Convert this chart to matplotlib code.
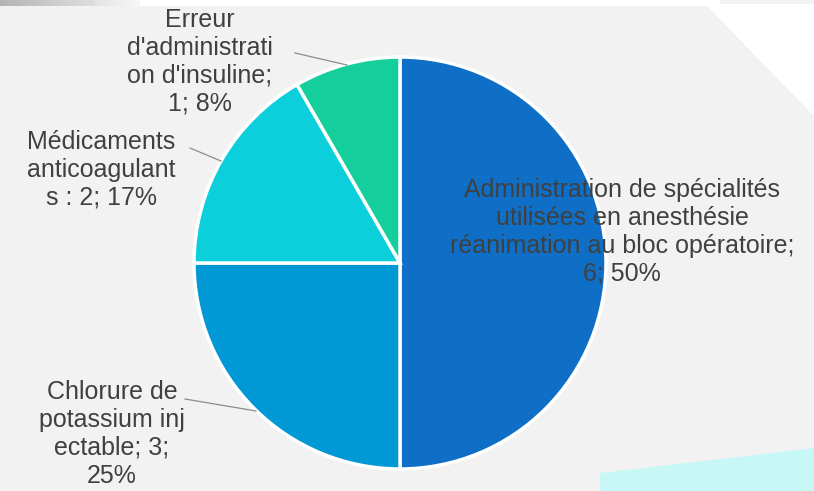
import numpy as np
import matplotlib
matplotlib.use('Agg')
import matplotlib.pyplot as plt
from matplotlib.patches import Polygon, Rectangle

labels = [
    "Administration de spécialités\nutilisées en anesthésie\nréanimation au bloc opératoire;\n6; 50%",
    "Chlorure de\npotassium inj\nectable; 3;\n25%",
    "Médicaments\nanticoagulant\ns : 2; 17%",
    "Erreur\nd'administrati\non d'insuline;\n1; 8%",
]
values = [6, 3, 2, 1]
colors = ['#0F6FC6', '#0099D6', '#0BCFDB', '#14CF9B']

# positions des étiquettes (pixels, origine en haut à gauche)
label_pos = [(622, 232), (112, 434), (101, 170), (200, 62)]
leaders = [None, ((185, 399), (256, 411)), ((190, 148), (221, 161)), ((295, 53), (347, 65))]

W, H = 814, 491
fig = plt.figure(figsize=(W / 100, H / 100), dpi=100)
fig.patch.set_facecolor('#f2f2f2')
ax = fig.add_axes([0, 0, 1, 1])

def fy(y):
    return H - y

wedges, _ = ax.pie(values, colors=colors, startangle=90, counterclock=False,
                   center=(400, fy(263)), radius=206,
                   wedgeprops=dict(edgecolor='white', linewidth=2.5))
for w in wedges:
    w.set_zorder(2)

# décor de fond
ax.add_patch(Rectangle((95, fy(6)), 625, 6, color='white', zorder=0, lw=0))
ax.add_patch(Polygon([(705, fy(4)), (W, fy(4)), (W, fy(116))], closed=True,
                     color='white', zorder=0, lw=0))
ax.add_patch(Polygon([(600, 0), (600, fy(473)), (W, fy(448)), (W, 0)], closed=True,
                     color='#c8f8f6', zorder=0, lw=0))
grad = np.linspace(0.55, 0.95, 100).reshape(1, -1)
ax.imshow(np.vstack([grad] * 2), cmap='gray', vmin=0, vmax=1, aspect='auto',
          extent=(0, 140, fy(6), fy(0)), zorder=0, alpha=0.6)

ax.set_xlim(0, W)
ax.set_ylim(0, H)
ax.set_aspect('equal')
ax.axis('off')

for lbl, (x, y) in zip(labels, label_pos):
    ax.text(x, fy(y), lbl, ha='center', va='center', fontsize=18,
            family='Liberation Sans', color='#404040', linespacing=1.2, zorder=3)

for ld in leaders:
    if ld is None:
        continue
    (x0, y0), (x1, y1) = ld
    ax.plot([x0, x1], [fy(y0), fy(y1)], color='#8c8c8c', lw=0.9, zorder=3)

fig.savefig('out.png', dpi=100, facecolor=fig.get_facecolor())
